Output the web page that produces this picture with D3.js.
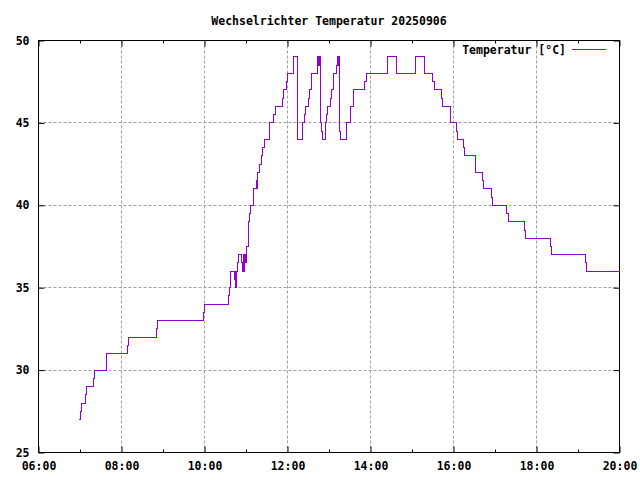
<!DOCTYPE html>
<html>
<head>
<meta charset="utf-8">
<script src="https://cdn.jsdelivr.net/npm/d3@7"></script>
<style>
  body { margin: 0; background: #fff; }
  text { font-family: "DejaVu Sans Mono", monospace; font-weight: bold; font-size: 11.5px; fill: #000; }
</style>
</head>
<body>
<svg id="chart" width="640" height="480"></svg>
<script>
const chartTitle = 'Wechselrichter Temperatur 20250906';
const seriesName = 'Temperatur [°C]';
const day = '2025-09-06';

// readings (time of change -> new value), drawn as steps
const times = [
  '06:59', '07:01', '07:02', '07:08', '07:09', '07:19', '07:21', '07:38', '08:09', '08:10',
  '08:51', '08:52', '09:59', '10:00', '10:35', '10:36', '10:37', '10:38', '10:43', '10:44',
  '10:45', '10:46', '10:47', '10:49', '10:54', '10:55', '10:56', '10:57', '10:58', '10:59',
  '11:00', '11:01', '11:03', '11:04', '11:05', '11:06', '11:11', '11:15', '11:16', '11:17',
  '11:19', '11:22', '11:24', '11:27', '11:34', '11:40', '11:42', '11:53', '11:54', '11:59',
  '12:00', '12:09', '12:14', '12:15', '12:21', '12:22', '12:25', '12:26', '12:30', '12:32',
  '12:34', '12:35', '12:43', '12:44', '12:45', '12:46', '12:47', '12:49', '12:50', '12:55',
  '12:57', '12:58', '13:02', '13:03', '13:06', '13:07', '13:11', '13:12', '13:13', '13:14',
  '13:15', '13:16', '13:25', '13:31', '13:36', '13:52', '13:54', '14:24', '14:38', '15:05',
  '15:18', '15:30', '15:32', '15:43', '15:44', '15:55', '15:56', '16:04', '16:06', '16:15',
  '16:16', '16:32', '16:42', '16:43', '16:55', '16:56', '17:17', '17:19', '17:43', '17:44',
  '18:20', '18:22', '19:11', '19:12', '20:00'
];
const temps = [
  27, 27.5, 28, 28.5, 29, 29.5, 30, 31, 31.5, 32,
  32.5, 33, 33.5, 34, 34.5, 35, 35.5, 36, 35.5, 36,
  35, 36, 36.5, 37, 36.5, 36, 37, 36, 37, 36.5,
  37, 37.5, 38, 39, 39.5, 40, 41, 41.5, 41, 42,
  42.5, 43, 43.5, 44, 45, 45.5, 46, 46.5, 47, 47.5,
  48, 49, 44.5, 44, 44.5, 45, 45.5, 46, 46.5, 47,
  47.5, 48, 48.5, 49, 48.5, 49, 45, 44.5, 44, 45,
  45.5, 46, 46.5, 47, 47.5, 48, 48.5, 49, 48.5, 49,
  44.5, 44, 45, 46, 47, 47.5, 48, 49, 48, 49,
  48, 47.5, 47, 46.5, 46, 45.5, 45, 44.5, 44, 43.5,
  43, 42, 41.5, 41, 40.5, 40, 39.5, 39, 38.5, 38,
  37.5, 37, 36.5, 36, 36
];

const yTicks = [25, 30, 35, 40, 45, 50];
const xTicks = ['06:00', '08:00', '10:00', '12:00', '14:00', '16:00', '18:00', '20:00'];
const xMinorTicks = ['07:00', '09:00', '11:00', '13:00', '15:00', '17:00', '19:00'];

const parse = d3.timeParse('%Y-%m-%d %H:%M');
const toDate = t => parse(`${day} ${t}`);
const data = times.map((t, i) => ({ t: toDate(t), v: temps[i] }));

const svg = d3.select('#chart');
const plotL = 38.5, plotR = 619.5, plotT = 40.5, plotB = 452.5;

const x = d3.scaleTime()
  .domain([toDate('06:00'), toDate('20:00')])
  .range([plotL, plotR]);
const y = d3.scaleLinear()
  .domain([25, 50])
  .range([plotB, plotT]);

const gridColor = '#a0a0a0';

// grid (inner major ticks only)
svg.append('g')
  .selectAll('line')
  .data(xTicks.slice(1, -1))
  .enter()
  .append('line')
  .attr('x1', d => Math.round(x(toDate(d)) - 0.5) + 0.5)
  .attr('x2', d => Math.round(x(toDate(d)) - 0.5) + 0.5)
  .attr('y1', plotT)
  .attr('y2', plotB)
  .attr('stroke', gridColor)
  .attr('stroke-dasharray', '3,2');

svg.append('g')
  .selectAll('line')
  .data(yTicks.slice(1, -1))
  .enter()
  .append('line')
  .attr('x1', plotL)
  .attr('x2', plotR)
  .attr('y1', d => Math.round(y(d) - 0.5) + 0.5)
  .attr('y2', d => Math.round(y(d) - 0.5) + 0.5)
  .attr('stroke', gridColor)
  .attr('stroke-dasharray', '3,2');

// axes, ticks drawn inwards and mirrored like gnuplot
const axisB = d3.axisBottom(x).tickValues(xTicks.map(toDate)).tickFormat(d3.timeFormat('%H:%M')).tickSizeInner(-6).tickSizeOuter(0).tickPadding(9);
const axisT = d3.axisTop(x).tickValues(xTicks.map(toDate)).tickFormat('').tickSizeInner(-6).tickSizeOuter(0);
const axisBm = d3.axisBottom(x).tickValues(xMinorTicks.map(toDate)).tickFormat('').tickSizeInner(-3).tickSizeOuter(0);
const axisTm = d3.axisTop(x).tickValues(xMinorTicks.map(toDate)).tickFormat('').tickSizeInner(-3).tickSizeOuter(0);
const axisL = d3.axisLeft(y).tickValues(yTicks).tickSizeInner(-6).tickSizeOuter(0).tickPadding(9);
const axisR = d3.axisRight(y).tickValues(yTicks).tickFormat('').tickSizeInner(-6).tickSizeOuter(0);

function styleAxis(g) {
  g.select('.domain').remove();
  g.selectAll('line').attr('stroke', '#000');
  g.selectAll('text').attr('font-family', null).attr('font-size', null);
}

svg.append('g').attr('transform', `translate(0,${plotB})`).call(axisB).call(styleAxis)
  .selectAll('text').attr('dy', '0.71em');
svg.append('g').attr('transform', `translate(0,${plotB})`).call(axisBm).call(styleAxis);
svg.append('g').attr('transform', `translate(0,${plotT})`).call(axisT).call(styleAxis);
svg.append('g').attr('transform', `translate(0,${plotT})`).call(axisTm).call(styleAxis);
svg.append('g').attr('transform', `translate(${plotL},0)`).call(axisL).call(styleAxis);
svg.append('g').attr('transform', `translate(${plotR},0)`).call(axisR).call(styleAxis);

// border
svg.append('rect')
  .attr('x', plotL)
  .attr('y', plotT)
  .attr('width', plotR - plotL)
  .attr('height', plotB - plotT)
  .attr('fill', 'none')
  .attr('stroke', '#000');

// series
const line = d3.line()
  .x(d => x(d.t))
  .y(d => y(d.v))
  .curve(d3.curveStepAfter);

svg.append('path')
  .datum(data)
  .attr('d', line)
  .attr('fill', 'none')
  .attr('stroke', '#9400d3')
  .attr('stroke-width', 1)
  .attr('shape-rendering', 'crispEdges');

// title
svg.append('text')
  .attr('x', (plotL + plotR) / 2)
  .attr('y', 25)
  .attr('text-anchor', 'middle')
  .text(chartTitle);

// legend
svg.append('text')
  .attr('x', 566)
  .attr('y', 54)
  .attr('text-anchor', 'end')
  .text(seriesName);
svg.append('line')
  .attr('x1', 572)
  .attr('x2', 606)
  .attr('y1', 49.5)
  .attr('y2', 49.5)
  .attr('stroke', '#9400d3');
</script>
</body>
</html>
